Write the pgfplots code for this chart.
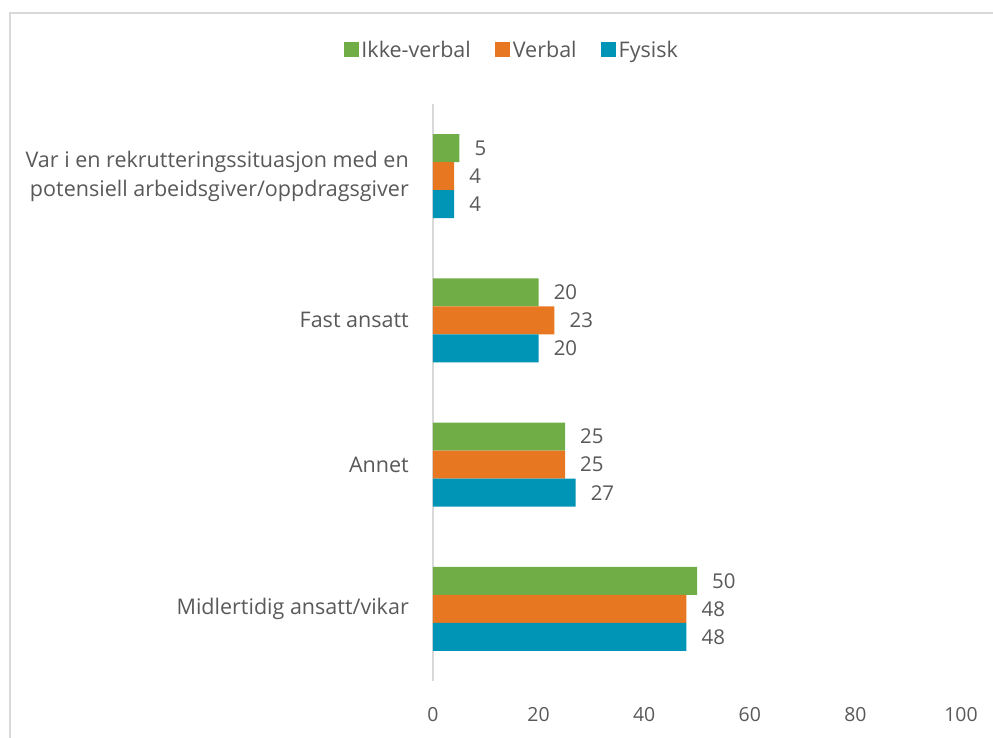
\documentclass[border=0pt]{standalone}
\usepackage{pgfplots}
\pgfplotsset{compat=1.18}
\usepackage{fontspec}
\setmainfont{Open Sans}
\definecolor{cgreen}{HTML}{70AD47}
\definecolor{corange}{HTML}{E87722}
\definecolor{cblue}{HTML}{0095B6}
\definecolor{ctext}{HTML}{595959}
\definecolor{cline}{HTML}{D9D9D9}
\newcommand{\cf}{\fontsize{19.5}{25.5}\selectfont}
\newcommand{\vf}{\fontsize{20.5}{25.5}\selectfont}
\newcommand{\lf}{\fontsize{21.6}{29}\selectfont}
\begin{document}
\begin{tikzpicture}
\path[use as bounding box] (0,0) rectangle (993bp,738bp);
\draw[cline, line width=1.5bp] (10bp,-1bp) -- (10bp,725bp) -- (994bp,725bp);
\begin{axis}[
  at={(433bp,57bp)}, anchor=south west,
  scale only axis, width=528bp, height=577bp,
  xmin=0, xmax=100, ymin=-0.5, ymax=3.5,
  xtick={0,20,...,100},
  ytick={0,1,2,3},
  yticklabels={Midlertidig ansatt/vikar, Annet, Fast ansatt, {Var i en rekrutteringssituasjon med en\\potensiell arbeidsgiver/oppdragsgiver}},
  yticklabel style={align=right, inner sep=0pt, xshift=-24bp, font=\lf, text=ctext},
  xticklabel style={inner sep=0pt, anchor=north, text height=14bp, text depth=0pt, yshift=-26bp, font=\cf, text=ctext},
  /pgf/number format/assume math mode=true,
  major tick length=0pt,
  separate axis lines,
  axis x line*=bottom, axis y line*=left,
  x axis line style={draw=none},
  y axis line style={cline, line width=1.5bp, -},
  xbar, bar width=28bp,
  every axis plot post/.append style={legend image code/.code={\fill[##1] (-5bp,-7.5bp) rectangle (10bp,7.5bp);}},
  nodes near coords,
  nodes near coords style={font=\vf, text=ctext, inner sep=0pt, anchor=west, xshift=15bp},
  legend columns=3,
  legend style={at={(0.150,1.0936)}, anchor=center, draw=none, fill=none, font=\lf, text=ctext,
    nodes={inner sep=2.5bp},
    /tikz/every even column/.append style={column sep=22bp}},
  clip=false,
]
\addplot[fill=cgreen, draw=none, bar shift=28bp] coordinates {(50,0) (25,1) (20,2) (5,3)};
\addplot[fill=corange, draw=none, bar shift=0bp] coordinates {(48,0) (25,1) (23,2) (4,3)};
\addplot[fill=cblue, draw=none, bar shift=-28bp] coordinates {(48,0) (27,1) (20,2) (4,3)};
\legend{Ikke-verbal, Verbal, Fysisk}
\end{axis}
\end{tikzpicture}
\end{document}
